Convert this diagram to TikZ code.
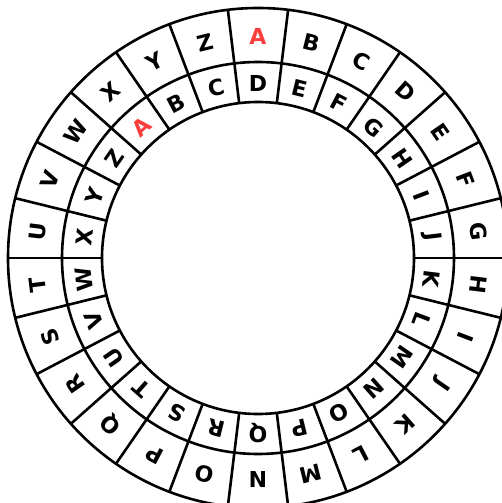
\documentclass[tikz,border=0pt]{standalone}
\usepackage{fontspec}
\setmainfont{DejaVu Sans}
\definecolor{keyred}{RGB}{250,62,62}

\begin{document}
\begin{tikzpicture}[x=1pt, y=1pt,
      ring/.style={line width=2.6pt},
      letter/.style={font=\bfseries\fontsize{22}{22}\selectfont, inner sep=0pt}]
  \useasboundingbox (-258,-245) rectangle (243,258);
  % the three circles
  \draw[ring] (0,0) circle[radius=250] (0,0) circle[radius=196] (0,0) circle[radius=156];
  % cell borders
  \foreach \k in {0,...,25}
    \draw[ring] ({90+180/26-\k*360/26}:156) -- ({90+180/26-\k*360/26}:250);
  % outer and inner letters, inner wheel shifted by 3
  \foreach \l [count=\i from 0] in {A,...,Z} {
    \ifnum\i=0 \def\lc{keyred}\else \def\lc{black}\fi
    \pgfmathsetmacro\ao{90-\i*360/26}
    \pgfmathsetmacro\ai{90-(\i-3)*360/26}
    \node[letter, text=\lc, rotate=\ao-90] (o\i) at (\ao:222) {\l};
    \node[letter, text=\lc, rotate=\ai-90] (n\i) at (\ai:175) {\l};
  }
\end{tikzpicture}
\end{document}
